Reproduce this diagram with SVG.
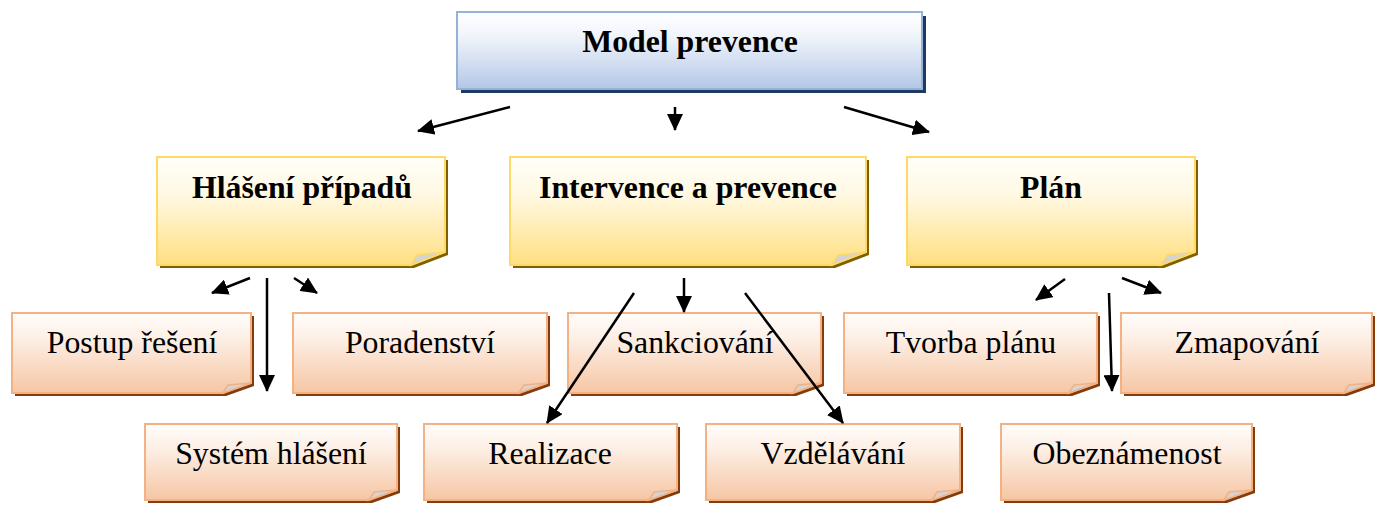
<svg xmlns="http://www.w3.org/2000/svg" width="1378" height="506" viewBox="0 0 1378 506">
<style>
text{font-family:"Liberation Serif","Times New Roman",serif;fill:#000;text-anchor:middle}
.b{font-weight:bold;font-size:31.8px}
.r{font-size:31.8px}
.sy{fill:#7f6000}
.so{fill:#843c0c}
.fy{fill:url(#gy);stroke:#ffd966;stroke-width:2}
.fo{fill:url(#go);stroke:#f4b183;stroke-width:2}
.fdy{fill:#d4d4d4;stroke:#ffd966;stroke-width:1.5}
.fdo{fill:#d4d4d4;stroke:#f4b183;stroke-width:1.5}
.c line{stroke:#000;stroke-width:2.5;marker-end:url(#ah)}
</style>
<defs>
<linearGradient id="gb" x1="0" y1="0" x2="0" y2="1"><stop offset="0" stop-color="#ffffff"/><stop offset="0.3" stop-color="#f1f5fb"/><stop offset="1" stop-color="#b4c7e7"/></linearGradient>
<linearGradient id="gy" x1="0" y1="0" x2="0" y2="1"><stop offset="0" stop-color="#fffef8"/><stop offset="0.35" stop-color="#fff9e3"/><stop offset="1" stop-color="#ffdf80"/></linearGradient>
<linearGradient id="go" x1="0" y1="0" x2="0" y2="1"><stop offset="0" stop-color="#fffdfb"/><stop offset="0.3" stop-color="#fdf0e7"/><stop offset="1" stop-color="#f6c6a4"/></linearGradient>
<marker id="ah" markerUnits="userSpaceOnUse" markerWidth="18" markerHeight="16" refX="16" refY="8" orient="auto"><path d="M0,0 L17,8 L0,16 Z" fill="#000"/></marker>
</defs>

<g id="model">
<rect x="461" y="16" width="465" height="77" fill="#1f3864"/>
<rect x="457" y="12" width="465" height="77" fill="url(#gb)" stroke="#95b3d7" stroke-width="2"/>
<text class="b" x="690" y="52">Model prevence</text>
</g>

<g id="hlaseni">
<path class="sy" d="M160,160 H448 V255 L414,268 H160 Z"/>
<path class="fy" d="M157,157 H445 V252 L411,265 H157 Z"/>
<path class="fdy" d="M411,265 L417,255 L445,252 Z"/>
<text class="b" x="302" y="198">Hlášení případů</text>
</g>
<g id="intervence">
<path class="sy" d="M513,160 H869 V255 L835,268 H513 Z"/>
<path class="fy" d="M510,157 H866 V252 L832,265 H510 Z"/>
<path class="fdy" d="M832,265 L838,255 L866,252 Z"/>
<text class="b" x="688" y="198">Intervence a prevence</text>
</g>
<g id="plan">
<path class="sy" d="M910,160 H1198 V255 L1164,268 H910 Z"/>
<path class="fy" d="M907,157 H1195 V252 L1161,265 H907 Z"/>
<path class="fdy" d="M1161,265 L1167,255 L1195,252 Z"/>
<text class="b" x="1051" y="198">Plán</text>
</g>

<g id="postup">
<path class="so" d="M15,316 H254 V386 L226,396 H15 Z"/>
<path class="fo" d="M12,313 H251 V383 L223,393 H12 Z"/>
<path class="fdo" d="M223,393 L228,385 L251,383 Z"/>
<text class="r" x="132" y="353">Postup řešení</text>
</g>
<g id="poradenstvi">
<path class="so" d="M296,316 H550 V386 L522,396 H296 Z"/>
<path class="fo" d="M293,313 H547 V383 L519,393 H293 Z"/>
<path class="fdo" d="M519,393 L524,385 L547,383 Z"/>
<text class="r" x="420" y="353">Poradenství</text>
</g>
<g id="sankciovani">
<path class="so" d="M571,316 H824 V386 L796,396 H571 Z"/>
<path class="fo" d="M568,313 H821 V383 L793,393 H568 Z"/>
<path class="fdo" d="M793,393 L798,385 L821,383 Z"/>
<text class="r" x="695" y="353">Sankciování</text>
</g>
<g id="tvorba">
<path class="so" d="M847,316 H1100 V386 L1072,396 H847 Z"/>
<path class="fo" d="M844,313 H1097 V383 L1069,393 H844 Z"/>
<path class="fdo" d="M1069,393 L1074,385 L1097,383 Z"/>
<text class="r" x="971" y="353">Tvorba plánu</text>
</g>
<g id="zmapovani">
<path class="so" d="M1124,316 H1375 V386 L1347,396 H1124 Z"/>
<path class="fo" d="M1121,313 H1372 V383 L1344,393 H1121 Z"/>
<path class="fdo" d="M1344,393 L1349,385 L1372,383 Z"/>
<text class="r" x="1247" y="353">Zmapování</text>
</g>

<g id="system">
<path class="so" d="M148,427 H400 V493 L372,503 H148 Z"/>
<path class="fo" d="M145,424 H397 V490 L369,500 H145 Z"/>
<path class="fdo" d="M369,500 L374,492 L397,490 Z"/>
<text class="r" x="271" y="464">Systém hlášení</text>
</g>
<g id="realizace">
<path class="so" d="M427,427 H680 V493 L652,503 H427 Z"/>
<path class="fo" d="M424,424 H677 V490 L649,500 H424 Z"/>
<path class="fdo" d="M649,500 L654,492 L677,490 Z"/>
<text class="r" x="550" y="464">Realizace</text>
</g>
<g id="vzdelavani">
<path class="so" d="M709,427 H963 V493 L935,503 H709 Z"/>
<path class="fo" d="M706,424 H960 V490 L932,500 H706 Z"/>
<path class="fdo" d="M932,500 L937,492 L960,490 Z"/>
<text class="r" x="833" y="464">Vzdělávání</text>
</g>
<g id="obeznamenost">
<path class="so" d="M1004,427 H1255 V493 L1227,503 H1004 Z"/>
<path class="fo" d="M1001,424 H1252 V490 L1224,500 H1001 Z"/>
<path class="fdo" d="M1224,500 L1229,492 L1252,490 Z"/>
<text class="r" x="1127" y="464">Obeznámenost</text>
</g>

<g id="connectors" class="c">
<line x1="510" y1="107" x2="418" y2="131"/>
<line x1="675" y1="107" x2="675" y2="130"/>
<line x1="844" y1="107" x2="929" y2="132"/>
<line x1="250" y1="278" x2="212" y2="293"/>
<line x1="267" y1="278" x2="267" y2="391"/>
<line x1="294" y1="278" x2="317" y2="293"/>
<line x1="684" y1="278" x2="684" y2="312"/>
<line x1="634" y1="293" x2="547" y2="423"/>
<line x1="745" y1="293" x2="843" y2="423"/>
<line x1="1065" y1="279" x2="1036" y2="300"/>
<line x1="1109" y1="293" x2="1112" y2="391"/>
<line x1="1122" y1="278" x2="1161" y2="293"/>
</g>
</svg>
